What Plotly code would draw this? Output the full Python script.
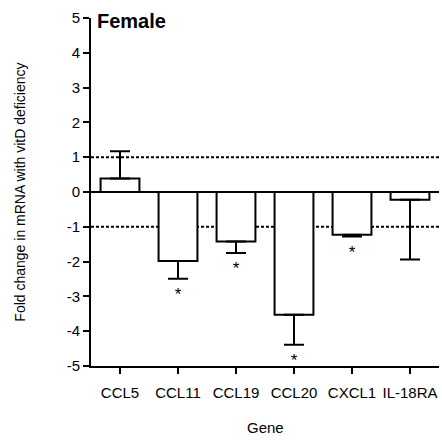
import plotly.graph_objects as go

genes = ["CCL5", "CCL11", "CCL19", "CCL20", "CXCL1", "IL-18RA"]
values = [0.39, -1.98, -1.42, -3.53, -1.23, -0.22]
err_up = [0.78, 0, 0, 0, 0, 0]
err_down = [0, 0.51, 0.33, 0.86, 0.05, 1.72]
significant = [False, True, True, True, True, False]
y_ticks = [-5, -4, -3, -2, -1, 0, 1, 2, 3, 4, 5]
ref_lines = [1, -1]

font = "Liberation Sans, Arial, sans-serif"

fig = go.Figure()
fig.add_trace(go.Bar(
    x=list(range(len(genes))), y=values, width=0.67,
    marker=dict(color="white", line=dict(color="black", width=2)),
    error_y=dict(type="data", symmetric=False, array=err_up, arrayminus=err_down,
                 color="black", thickness=2, width=10),
    showlegend=False, hoverinfo="skip",
))

sx = [i for i, s in enumerate(significant) if s]
sy = [values[i] - err_down[i] - 0.25 for i in sx]
fig.add_trace(go.Scatter(
    x=sx, y=sy, mode="text", text=["*"] * len(sx), textposition="bottom center",
    textfont=dict(family=font, size=17, color="black"), showlegend=False, hoverinfo="skip",
))

for v in ref_lines:
    fig.add_shape(type="line", xref="x", yref="y", x0=-0.5, x1=5.5, y0=v, y1=v,
                  line=dict(color="black", width=2, dash="3px,2px"), layer="below")
fig.add_shape(type="line", xref="x", yref="y", x0=-0.5, x1=5.5, y0=0, y1=0,
              line=dict(color="black", width=2))

fig.update_layout(
    width=442, height=442,
    margin=dict(l=91, r=3, t=18, b=76),
    plot_bgcolor="white", paper_bgcolor="white",
    font=dict(family=font, size=15, color="black"),
    annotations=[
        dict(text="<b>Female</b>", x=0.012, y=0.99, xref="paper", yref="paper",
             xanchor="left", yanchor="middle", showarrow=False,
             font=dict(family=font, size=20, color="black")),
        dict(text="Gene", x=0.5, y=-0.178, xref="paper", yref="paper",
             xanchor="center", yanchor="middle", showarrow=False,
             font=dict(family=font, size=15, color="black")),
        dict(text="Fold change in mRNA with vitD deficiency", x=-0.205, y=0.5,
             xref="paper", yref="paper", xanchor="center", yanchor="middle",
             textangle=-90, showarrow=False,
             font=dict(family=font, size=14, color="black")),
    ],
)
fig.update_xaxes(
    range=[-0.5, 5.5], tickmode="array", tickvals=list(range(len(genes))), ticktext=genes,
    showline=True, linecolor="black", linewidth=2, ticks="outside", ticklen=6,
    tickwidth=2, tickcolor="black", showgrid=False, zeroline=False, automargin=False,
    tickfont=dict(size=15), ticklabelstandoff=6,
)
fig.update_yaxes(
    range=[-5, 5], tickmode="array", tickvals=y_ticks, ticktext=[str(t) for t in y_ticks],
    showline=True, linecolor="black", linewidth=2, ticks="outside", ticklen=6,
    tickwidth=2, tickcolor="black", showgrid=False, zeroline=False, automargin=False,
    tickfont=dict(size=15),
)

fig.write_html("out.html", config={"displayModeBar": False},
               post_script="document.body.style.margin='0';document.body.style.overflow='hidden';")
